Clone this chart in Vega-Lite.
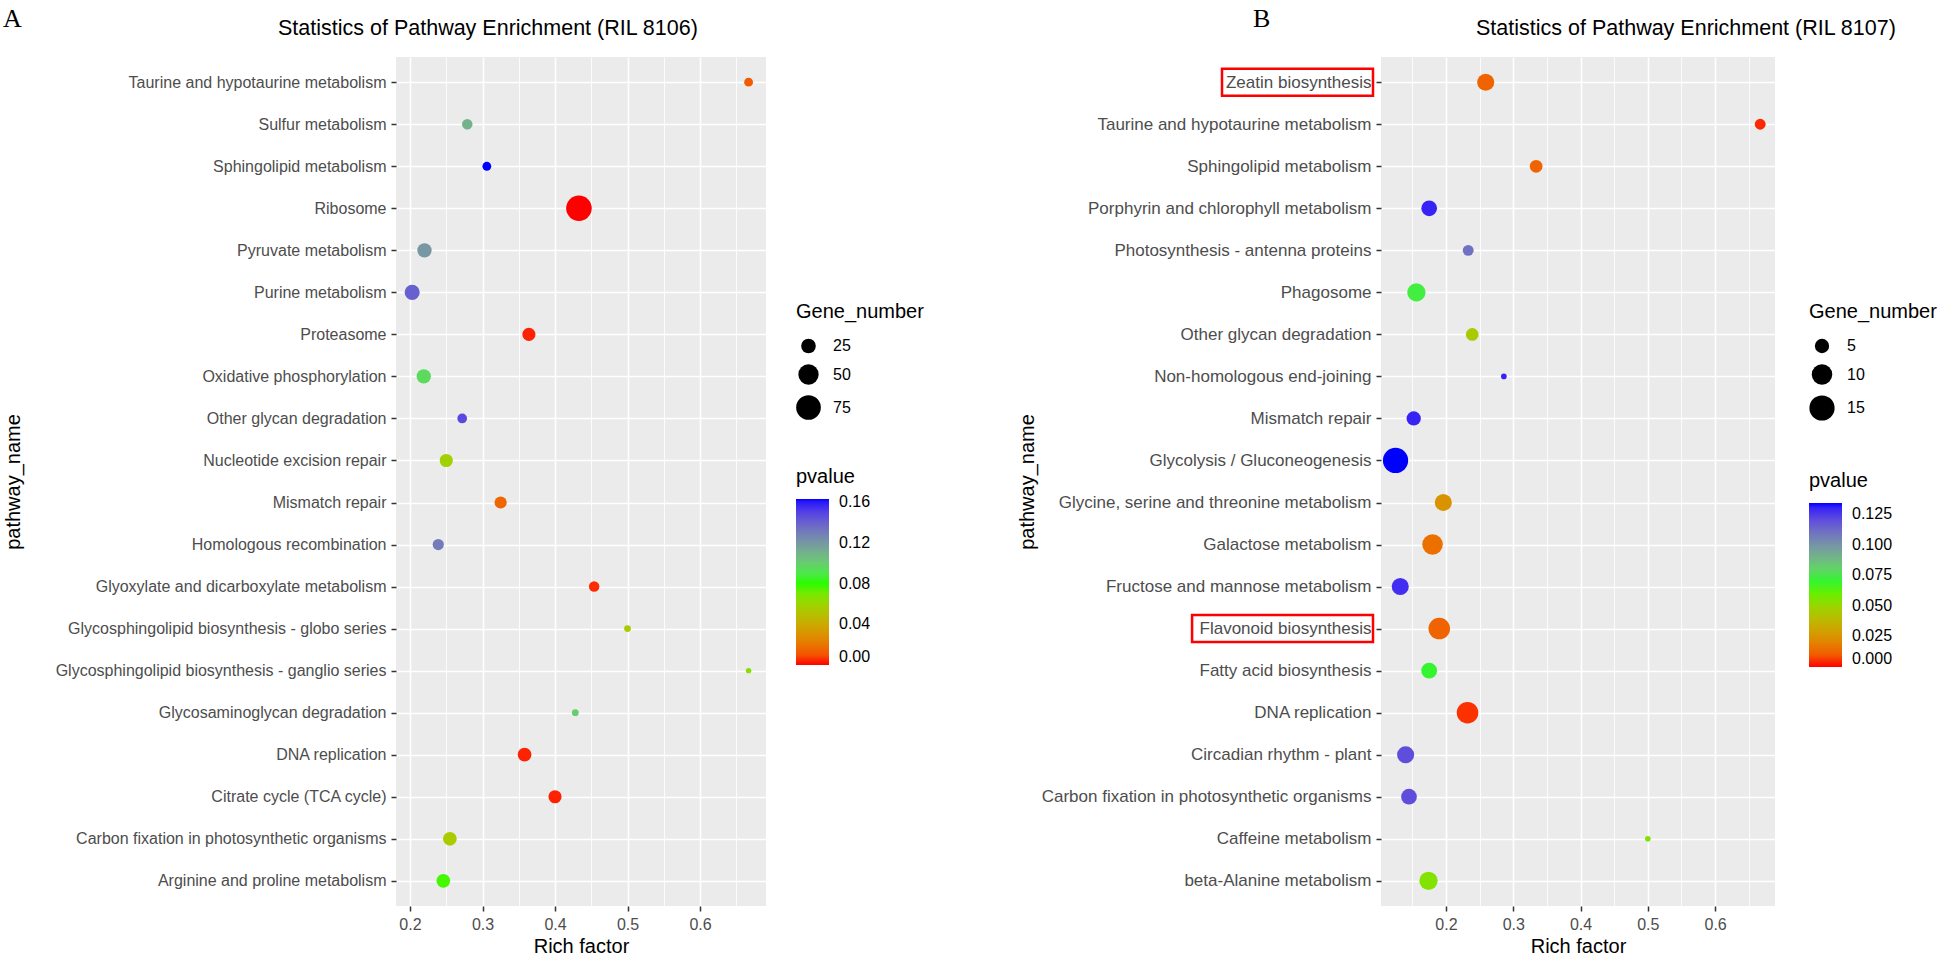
{
  "$schema": "https://vega.github.io/schema/vega-lite/v6.json",
  "background": "white",
  "padding": {"left": 3, "top": 5, "right": 0, "bottom": 0},
  "spacing": 93,
  "config": {
    "font": "Liberation Sans",
    "view": {"fill": "#EBEBEB", "stroke": null},
    "axis": {"grid": true, "gridColor": "white", "domain": false, "tickColor": "#333333", "tickSize": 5, "tickWidth": 1.5, "labelColor": "#4D4D4D", "labelFontSize": 16, "titleFontSize": 20, "titleFontWeight": "normal", "titleColor": "black", "labelPadding": 5, "labelLimit": 800},
    "legend": {"titleFontSize": 20, "titleFontWeight": "normal", "labelFontSize": 16, "labelColor": "black", "titleColor": "black"},
    "title": {"fontWeight": "normal", "color": "black"}
  },
  "resolve": {"scale": {"x": "independent", "y": "independent", "color": "independent", "size": "independent"}, "legend": {"color": "independent", "size": "independent"}},
  "hconcat": [
    {
      "title": {"text": "A", "anchor": "start", "frame": "bounds", "font": "Liberation Serif", "fontSize": 26, "dx": 0, "offset": -14},
      "vconcat": [
        {
          "width": 370,
          "height": 849,
          "title": {"text": "Statistics of Pathway Enrichment (RIL 8106)", "anchor": "start", "frame": "group", "dx": -118, "fontSize": 21.5, "offset": 18},
          "data": {"values": [
            {"pathway_name": "Taurine and hypotaurine metabolism", "rich_factor": 0.667, "pvalue": 0.012, "Gene_number": 8},
            {"pathway_name": "Sulfur metabolism", "rich_factor": 0.279, "pvalue": 0.11, "Gene_number": 12},
            {"pathway_name": "Sphingolipid metabolism", "rich_factor": 0.306, "pvalue": 0.163, "Gene_number": 8},
            {"pathway_name": "Ribosome", "rich_factor": 0.433, "pvalue": 0.0, "Gene_number": 80},
            {"pathway_name": "Pyruvate metabolism", "rich_factor": 0.22, "pvalue": 0.12, "Gene_number": 24},
            {"pathway_name": "Purine metabolism", "rich_factor": 0.203, "pvalue": 0.14, "Gene_number": 27},
            {"pathway_name": "Proteasome", "rich_factor": 0.364, "pvalue": 0.002, "Gene_number": 20},
            {"pathway_name": "Oxidative phosphorylation", "rich_factor": 0.219, "pvalue": 0.095, "Gene_number": 24},
            {"pathway_name": "Other glycan degradation", "rich_factor": 0.272, "pvalue": 0.148, "Gene_number": 10},
            {"pathway_name": "Nucleotide excision repair", "rich_factor": 0.25, "pvalue": 0.058, "Gene_number": 20},
            {"pathway_name": "Mismatch repair", "rich_factor": 0.325, "pvalue": 0.015, "Gene_number": 17},
            {"pathway_name": "Homologous recombination", "rich_factor": 0.239, "pvalue": 0.13, "Gene_number": 14},
            {"pathway_name": "Glyoxylate and dicarboxylate metabolism", "rich_factor": 0.454, "pvalue": 0.003, "Gene_number": 12},
            {"pathway_name": "Glycosphingolipid biosynthesis - globo series", "rich_factor": 0.5, "pvalue": 0.055, "Gene_number": 4},
            {"pathway_name": "Glycosphingolipid biosynthesis - ganglio series", "rich_factor": 0.667, "pvalue": 0.065, "Gene_number": 2},
            {"pathway_name": "Glycosaminoglycan degradation", "rich_factor": 0.428, "pvalue": 0.1, "Gene_number": 4},
            {"pathway_name": "DNA replication", "rich_factor": 0.358, "pvalue": 0.002, "Gene_number": 22},
            {"pathway_name": "Citrate cycle (TCA cycle)", "rich_factor": 0.4, "pvalue": 0.002, "Gene_number": 20},
            {"pathway_name": "Carbon fixation in photosynthetic organisms", "rich_factor": 0.255, "pvalue": 0.055, "Gene_number": 22},
            {"pathway_name": "Arginine and proline metabolism", "rich_factor": 0.246, "pvalue": 0.078, "Gene_number": 22}
          ]},
          "mark": {"type": "circle", "opacity": 1},
          "encoding": {
            "x": {"field": "rich_factor", "type": "quantitative", "title": "Rich factor",
              "scale": {"domain": [0.1807, 0.691], "nice": false, "zero": false},
              "axis": {"values": [0.2, 0.25, 0.3, 0.35, 0.4, 0.45, 0.5, 0.55, 0.6, 0.65],
                "labelExpr": "round(datum.value*100) % 10 == 5 ? '' : format(datum.value, '.1f')",
                "gridWidth": {"condition": {"test": "round(datum.value*100) % 10 == 5", "value": 0.8}, "value": 1.6},
                "tickOpacity": {"condition": {"test": "round(datum.value*100) % 10 == 5", "value": 0}, "value": 1},
                "titlePadding": 4}},
            "y": {"field": "pathway_name", "type": "nominal", "sort": null, "title": "pathway_name",
              "scale": {"type": "point", "padding": 0.6},
              "axis": {"gridWidth": 1.6, "labelFontSize": 16, "titleX": -373}},
            "color": {"field": "pvalue", "type": "quantitative",
              "scale": {"domain": [0, 0.0815, 0.163], "range": ["#FF0000", "#00FF00", "#0000FF"], "interpolate": "lab"},
              "legend": {"title": "pvalue", "orient": "none", "legendX": 400, "legendY": 410, "values": [0, 0.04, 0.08, 0.12, 0.16], "format": ".2f", "gradientLength": 166, "gradientThickness": 33, "gradientStrokeWidth": 0, "titlePadding": 12, "labelOffset": 10, "direction": "vertical"}},
            "size": {"field": "Gene_number", "type": "quantitative",
              "scale": {"domain": [2, 80], "range": [30, 650], "zero": false},
              "legend": {"title": "Gene_number", "orient": "none", "legendX": 400, "legendY": 245, "values": [25, 50, 75], "symbolFillColor": "black", "symbolStrokeWidth": 0, "symbolOpacity": 1, "rowPadding": 10, "titlePadding": 16, "labelOffset": 12}}
          }
        }
      ]
    },
    {
      "title": {"text": "B", "anchor": "start", "frame": "bounds", "font": "Liberation Serif", "fontSize": 26, "dx": 236, "offset": -14},
      "vconcat": [
        {
          "width": 394,
          "height": 849,
          "title": {"text": "Statistics of Pathway Enrichment (RIL 8107)", "anchor": "start", "frame": "group", "dx": 95, "fontSize": 21.5, "offset": 18},
          "data": {"values": [
            {"pathway_name": "Zeatin biosynthesis", "rich_factor": 0.259, "pvalue": 0.012, "Gene_number": 7},
            {"pathway_name": "Taurine and hypotaurine metabolism", "rich_factor": 0.667, "pvalue": 0.002, "Gene_number": 3},
            {"pathway_name": "Sphingolipid metabolism", "rich_factor": 0.334, "pvalue": 0.012, "Gene_number": 4},
            {"pathway_name": "Porphyrin and chlorophyll metabolism", "rich_factor": 0.175, "pvalue": 0.13, "Gene_number": 6},
            {"pathway_name": "Photosynthesis - antenna proteins", "rich_factor": 0.233, "pvalue": 0.11, "Gene_number": 3},
            {"pathway_name": "Phagosome", "rich_factor": 0.156, "pvalue": 0.072, "Gene_number": 8},
            {"pathway_name": "Other glycan degradation", "rich_factor": 0.239, "pvalue": 0.045, "Gene_number": 4},
            {"pathway_name": "Non-homologous end-joining", "rich_factor": 0.286, "pvalue": 0.13, "Gene_number": 1},
            {"pathway_name": "Mismatch repair", "rich_factor": 0.152, "pvalue": 0.13, "Gene_number": 5},
            {"pathway_name": "Glycolysis / Gluconeogenesis", "rich_factor": 0.125, "pvalue": 0.134, "Gene_number": 15},
            {"pathway_name": "Glycine, serine and threonine metabolism", "rich_factor": 0.196, "pvalue": 0.025, "Gene_number": 7},
            {"pathway_name": "Galactose metabolism", "rich_factor": 0.18, "pvalue": 0.015, "Gene_number": 10},
            {"pathway_name": "Fructose and mannose metabolism", "rich_factor": 0.132, "pvalue": 0.128, "Gene_number": 7},
            {"pathway_name": "Flavonoid biosynthesis", "rich_factor": 0.19, "pvalue": 0.012, "Gene_number": 11},
            {"pathway_name": "Fatty acid biosynthesis", "rich_factor": 0.175, "pvalue": 0.07, "Gene_number": 6},
            {"pathway_name": "DNA replication", "rich_factor": 0.232, "pvalue": 0.003, "Gene_number": 11},
            {"pathway_name": "Circadian rhythm - plant", "rich_factor": 0.14, "pvalue": 0.12, "Gene_number": 7},
            {"pathway_name": "Carbon fixation in photosynthetic organisms", "rich_factor": 0.145, "pvalue": 0.12, "Gene_number": 6},
            {"pathway_name": "Caffeine metabolism", "rich_factor": 0.5, "pvalue": 0.055, "Gene_number": 1},
            {"pathway_name": "beta-Alanine metabolism", "rich_factor": 0.174, "pvalue": 0.055, "Gene_number": 8}
          ]},
          "encoding": {
            "y": {"field": "pathway_name", "type": "nominal", "title": "pathway_name",
              "scale": {"type": "point", "padding": 0.6, "domain": ["Zeatin biosynthesis", "Taurine and hypotaurine metabolism", "Sphingolipid metabolism", "Porphyrin and chlorophyll metabolism", "Photosynthesis - antenna proteins", "Phagosome", "Other glycan degradation", "Non-homologous end-joining", "Mismatch repair", "Glycolysis / Gluconeogenesis", "Glycine, serine and threonine metabolism", "Galactose metabolism", "Fructose and mannose metabolism", "Flavonoid biosynthesis", "Fatty acid biosynthesis", "DNA replication", "Circadian rhythm - plant", "Carbon fixation in photosynthetic organisms", "Caffeine metabolism", "beta-Alanine metabolism"]},
              "axis": {"gridWidth": 1.6, "labelFontSize": 17, "titleX": -344}}
          },
          "resolve": {"axis": {"x": "independent"}},
          "layer": [
            {
              "mark": {"type": "circle", "opacity": 1},
              "encoding": {
                "x": {"field": "rich_factor", "type": "quantitative", "title": "Rich factor",
                  "scale": {"domain": [0.1034, 0.689], "nice": false, "zero": false},
                  "axis": {"values": [0.15, 0.2, 0.25, 0.3, 0.35, 0.4, 0.45, 0.5, 0.55, 0.6, 0.65],
                    "labelExpr": "round(datum.value*100) % 10 == 5 ? '' : format(datum.value, '.1f')",
                    "gridWidth": {"condition": {"test": "round(datum.value*100) % 10 == 5", "value": 0.8}, "value": 1.6},
                    "tickOpacity": {"condition": {"test": "round(datum.value*100) % 10 == 5", "value": 0}, "value": 1},
                    "titlePadding": 4}},
                "color": {"field": "pvalue", "type": "quantitative",
                  "scale": {"domain": [0, 0.067, 0.134], "range": ["#FF0000", "#00FF00", "#0000FF"], "interpolate": "lab"},
                  "legend": {"title": "pvalue", "orient": "none", "legendX": 428, "legendY": 414, "values": [0, 0.025, 0.05, 0.075, 0.1, 0.125], "format": ".3f", "gradientLength": 164, "gradientThickness": 33, "gradientStrokeWidth": 0, "titlePadding": 12, "labelOffset": 10, "direction": "vertical"}},
                "size": {"field": "Gene_number", "type": "quantitative",
                  "scale": {"domain": [1, 16], "range": [32, 680], "zero": false},
                  "legend": {"title": "Gene_number", "orient": "none", "legendX": 428, "legendY": 245, "values": [5, 10, 15], "symbolFillColor": "black", "symbolStrokeWidth": 0, "symbolOpacity": 1, "rowPadding": 10, "titlePadding": 16, "labelOffset": 12}}
              }
            },
            {
              "transform": [{"filter": "datum.pathway_name == 'Zeatin biosynthesis'"}],
              "mark": {"type": "rect", "filled": false, "color": "red", "strokeWidth": 2.5, "height": 27},
              "encoding": {"x": {"datum": -0.1329, "axis": null}, "x2": {"datum": 0.0915}}
            },
            {
              "transform": [{"filter": "datum.pathway_name == 'Flavonoid biosynthesis'"}],
              "mark": {"type": "rect", "filled": false, "color": "red", "strokeWidth": 2.5, "height": 27},
              "encoding": {"x": {"datum": -0.1774, "axis": null}, "x2": {"datum": 0.0915}}
            }
          ]
        }
      ]
    }
  ]
}
